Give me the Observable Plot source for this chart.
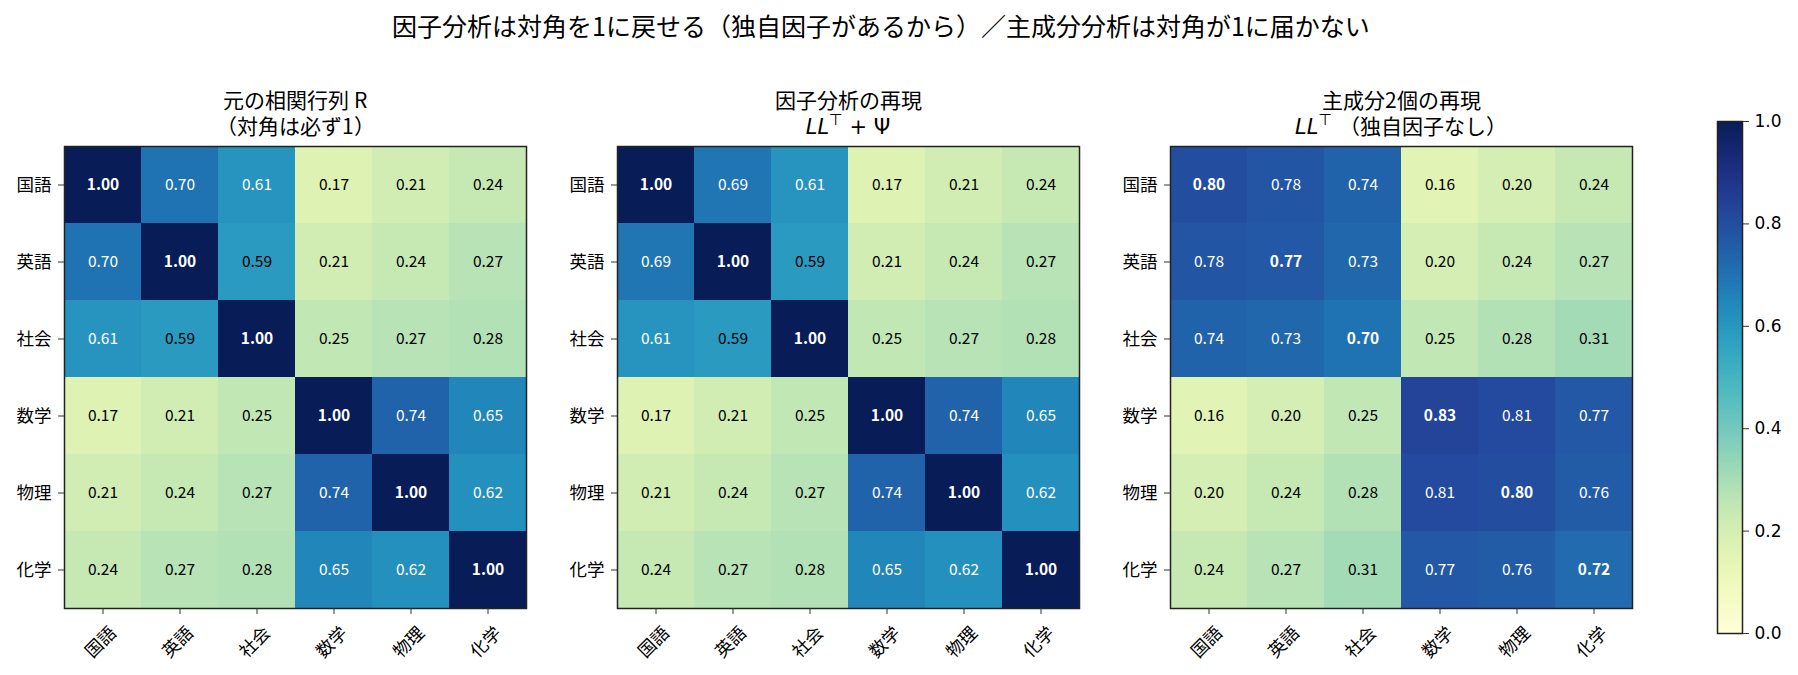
<!DOCTYPE html>
<html>
<head>
<meta charset="utf-8">
<script src="https://cdn.jsdelivr.net/npm/d3@7"></script>
<script src="https://cdn.jsdelivr.net/npm/@observablehq/plot@0.6"></script>
<style>
  @font-face {
    font-family: "CJKTight";
    src: local("Noto Sans CJK JP Regular"), local("NotoSansCJKjp-Regular"), local("Noto Sans CJK JP");
    ascent-override: 92%;
    descent-override: 22%;
    line-gap-override: 0%;
  }
  html, body { margin: 0; padding: 0; background: #fff; }
  #root { position: relative; width: 1798px; height: 675px; overflow: hidden; background: #fff;
          font-family: "Noto Sans CJK JP", "Noto Sans", sans-serif; color: #000; }
  .abs { position: absolute; }
  .suptitle { left: 0; width: 1762px; top: 10px; text-align: center; font-size: 25px; line-height: 30px; }
  .ptitle { width: 554px; text-align: center; font-size: 21px; line-height: 26px; top: 88px;
            font-family: "CJKTight", "Noto Sans CJK JP", sans-serif; }
  .math { font-family: "DejaVu Sans", sans-serif; }
  .math i { font-style: italic; }
  .math sup { font-size: 0.75em; vertical-align: 0.55em; line-height: 0; }
</style>
</head>
<body>
<div id="root">
  <div class="abs suptitle">因子分析は対角を1に戻せる（独自因子があるから）／主成分分析は対角が1に届かない</div>
  <div class="abs ptitle" style="left:18px">元の相関行列 R<br>（対角は必ず1）</div>
  <div class="abs ptitle" style="left:571px">因子分析の再現<br><span class="math"><i>LL</i><sup>⊤</sup> + Ψ</span></div>
  <div class="abs ptitle" style="left:1124px">主成分2個の再現<br><span class="math"><i>LL</i><sup>⊤</sup> </span>（独自因子なし）</div>
</div>
<script>
// ---- data ----
const subjects = ["国語", "英語", "社会", "数学", "物理", "化学"];

const matR = [
  [1.00, 0.70, 0.61, 0.17, 0.21, 0.24],
  [0.70, 1.00, 0.59, 0.21, 0.24, 0.27],
  [0.61, 0.59, 1.00, 0.25, 0.27, 0.28],
  [0.17, 0.21, 0.25, 1.00, 0.74, 0.65],
  [0.21, 0.24, 0.27, 0.74, 1.00, 0.62],
  [0.24, 0.27, 0.28, 0.65, 0.62, 1.00]
];

const matFA = [
  [1.00, 0.69, 0.61, 0.17, 0.21, 0.24],
  [0.69, 1.00, 0.59, 0.21, 0.24, 0.27],
  [0.61, 0.59, 1.00, 0.25, 0.27, 0.28],
  [0.17, 0.21, 0.25, 1.00, 0.74, 0.65],
  [0.21, 0.24, 0.27, 0.74, 1.00, 0.62],
  [0.24, 0.27, 0.28, 0.65, 0.62, 1.00]
];

const matPCA = [
  [0.80, 0.78, 0.74, 0.16, 0.20, 0.24],
  [0.78, 0.77, 0.73, 0.20, 0.24, 0.27],
  [0.74, 0.73, 0.70, 0.25, 0.28, 0.31],
  [0.16, 0.20, 0.25, 0.83, 0.81, 0.77],
  [0.20, 0.24, 0.28, 0.81, 0.80, 0.76],
  [0.24, 0.27, 0.31, 0.77, 0.76, 0.72]
];

const colorbarTicks = [0, 0.2, 0.4, 0.6, 0.8, 1.0];

// ---- build ----
const root = document.getElementById("root");
const colorOpts = {type: "linear", scheme: "ylgnbu", domain: [0, 1]};
const CJK = "'Noto Sans CJK JP', 'Noto Sans', sans-serif";

function tidy(mat) {
  const out = [];
  mat.forEach((row, i) => row.forEach((v, j) => out.push({row: subjects[i], col: subjects[j], v, diag: i === j})));
  return out;
}

function heatmap(mat, left) {
  const data = tidy(mat);
  const svg = Plot.plot({
    width: 524, height: 534,
    marginLeft: 60, marginRight: 2, marginTop: 2, marginBottom: 70,
    style: {fontFamily: CJK, fontSize: "17.5px", color: "#000", background: "transparent", overflow: "visible"},
    x: {domain: subjects, padding: 0, axis: null},
    y: {domain: subjects, padding: 0, axis: null},
    color: colorOpts,
    marks: [
      Plot.cell(data, {x: "col", y: "row", fill: "v", inset: 0, shapeRendering: "crispEdges"}),
      Plot.text(data, {filter: d => d.diag, x: "col", y: "row", text: d => d.v.toFixed(2),
        fill: "white", fontWeight: "bold", fontSize: 15.5, fontFamily: CJK}),
      Plot.text(data, {filter: d => !d.diag && d.v >= 0.6, x: "col", y: "row", text: d => d.v.toFixed(2),
        fill: "white", fontSize: 15.5, fontFamily: CJK}),
      Plot.text(data, {filter: d => !d.diag && d.v < 0.6, x: "col", y: "row", text: d => d.v.toFixed(2),
        fill: "black", fontSize: 15.5, fontFamily: CJK}),
      Plot.frame({stroke: "#222", strokeWidth: 1.5}),
      Plot.axisY({tickSize: 6, tickPadding: 7, label: null, fontSize: 17.5, stroke: "#333"}),
      Plot.axisX({tickSize: 6, tickFormat: () => "", label: null, stroke: "#333"}),
      Plot.text(subjects, {x: d => d, frameAnchor: "bottom", dy: 34, dx: -2, rotate: -45,
        textAnchor: "middle", lineAnchor: "middle", fontSize: 17.5, fill: "black", fontFamily: CJK})
    ]
  });
  svg.style.position = "absolute";
  svg.style.left = left + "px";
  svg.style.top = "144px";
  root.appendChild(svg);
}

heatmap(matR, 4);
heatmap(matFA, 557);
heatmap(matPCA, 1110);

const cb = Plot.plot({
  width: 2 + 25 + 60, height: 516,
  marginLeft: 2, marginRight: 60, marginTop: 2, marginBottom: 2,
  style: {fontFamily: "'DejaVu Sans', sans-serif", fontSize: "17px", color: "#000", background: "transparent", overflow: "visible"},
  x: {domain: [0, 1], axis: null},
  y: {domain: [0, 1], axis: null},
  color: colorOpts,
  marks: [
    Plot.raster({fill: (x, y) => y, x1: 0, x2: 1, y1: 0, y2: 1}),
    Plot.frame({stroke: "#222", strokeWidth: 1.5}),
    Plot.axisY({anchor: "right", ticks: colorbarTicks, tickFormat: d3.format(".1f"), tickSize: 6, tickPadding: 6,
      fontSize: 17, label: null, stroke: "#333"})
  ]
});
cb.style.position = "absolute";
cb.style.left = "1715px";
cb.style.top = "119px";
root.appendChild(cb);
</script>
</body>
</html>
